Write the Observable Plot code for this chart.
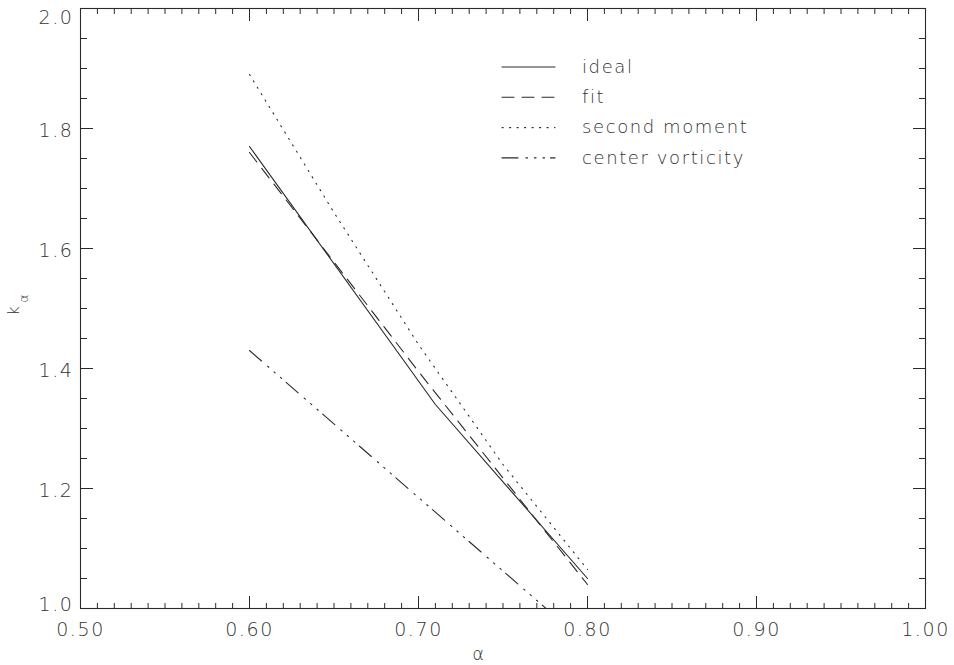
<!DOCTYPE html>
<html>
<head>
<meta charset="utf-8">
<script src="https://cdn.jsdelivr.net/npm/d3@7"></script>
<script src="https://cdn.jsdelivr.net/npm/@observablehq/plot@0.6"></script>
<style>
  body { margin: 0; background: #fff; }
  #chart svg { display: block; }
</style>
</head>
<body>
<div id="chart"></div>
<script>
// k_alpha as a function of alpha for four estimates
const seriesNames = ["ideal", "fit", "second moment", "center vorticity"];

const alphaIdeal = [0.60, 0.71, 0.80];
const kIdeal = [1.77, 1.34, 1.05];

const alphaFit = [0.60, 0.70, 0.80];
const kFit = [1.76, 1.395, 1.04];

const alphaSecond = [0.60, 0.65, 0.70, 0.75, 0.80];
const kSecond = [1.89, 1.66, 1.44, 1.24, 1.065];

const alphaCenter = [0.60, 0.70, 0.80];
const kCenter = [1.43, 1.185, 0.94];

// axis ticks and their labels
const xTicks = [0.5, 0.6, 0.7, 0.8, 0.9, 1.0];
const xTickLabels = ["0.50", "0.60", "0.70", "0.80", "0.90", "1.00"];
const yTicks = [1.0, 1.2, 1.4, 1.6, 1.8, 2.0];
const yTickLabels = ["1.0", "1.2", "1.4", "1.6", "1.8", "2.0"];
const xMinorTicks = d3.range(50, 101).map(i => i / 100);
const yMinorTicks = d3.range(20, 41).map(i => i / 20);

const xLabel = "α";
const yLabelMain = "k";
const yLabelSub = "α";

// line styles for each series
const dashes = {
  "ideal": null,
  "fit": "12,8",
  "second moment": "1.2,6.3",
  "center vorticity": "16,8,1.5,7,1.5,7,1.5,6"
};

const seriesData = {
  "ideal": alphaIdeal.map((a, i) => ({alpha: a, k: kIdeal[i]})),
  "fit": alphaFit.map((a, i) => ({alpha: a, k: kFit[i]})),
  "second moment": alphaSecond.map((a, i) => ({alpha: a, k: kSecond[i]})),
  "center vorticity": alphaCenter.map((a, i) => ({alpha: a, k: kCenter[i]}))
};

const ink = "#2a2a2a";
const font = "DejaVu Sans";

const xFmt = d => xTickLabels[xTicks.findIndex(t => Math.abs(t - d) < 1e-9)];
const yFmt = d => yTickLabels[yTicks.findIndex(t => Math.abs(t - d) < 1e-9)];
const blank = () => "";

// inward ticks on all four sides
const tickMarks = [];
for (const anchor of ["bottom", "top"]) {
  tickMarks.push(Plot.axisX(xMinorTicks, {anchor, tickSize: -5, tickFormat: blank, label: null, stroke: ink}));
  tickMarks.push(Plot.axisX(xTicks, {anchor, tickSize: -12, tickFormat: blank, label: null, stroke: ink}));
}
for (const anchor of ["left", "right"]) {
  tickMarks.push(Plot.axisY(yMinorTicks, {anchor, tickSize: -7, tickFormat: blank, label: null, stroke: ink}));
  tickMarks.push(Plot.axisY(yTicks, {anchor, tickSize: -13, tickFormat: blank, label: null, stroke: ink}));
}

const textStyle = {fill: "#333", fontSize: 19, fontWeight: 200};

const chart = Plot.plot({
  width: 954,
  height: 665,
  marginLeft: 80,
  marginRight: 29,
  marginTop: 8,
  marginBottom: 57,
  style: {fontFamily: font, background: "#fff", overflow: "visible", letterSpacing: "1.6px"},
  x: {domain: [0.5, 1.0]},
  y: {domain: [1.0, 2.0]},
  marks: [
    ...seriesNames.map(name => Plot.line(seriesData[name], {
      x: "alpha", y: "k", stroke: ink, strokeWidth: 1.1,
      strokeDasharray: dashes[name], strokeLinecap: "round", clip: true
    })),
    Plot.frame({stroke: ink, strokeWidth: 1.1}),
    ...tickMarks,
    Plot.axisX(xTicks, {anchor: "bottom", tickSize: 0, tickPadding: 14, tickFormat: xFmt, label: null, ...textStyle}),
    Plot.axisY(yTicks.slice(1, -1), {anchor: "left", tickSize: 0, tickPadding: 7, tickFormat: yFmt, label: null, dy: 2, ...textStyle}),
    Plot.axisY([yTicks[yTicks.length - 1]], {anchor: "left", tickSize: 0, tickPadding: 7, tickFormat: yFmt, label: null, dy: 9, ...textStyle}),
    Plot.axisY([yTicks[0]], {anchor: "left", tickSize: 0, tickPadding: 7, tickFormat: yFmt, label: null, dy: -4, ...textStyle}),
    Plot.text([xLabel], {text: d => d, frameAnchor: "bottom", dx: -24, dy: 51, fontSize: 18, fontWeight: 200, fill: "#333"}),
    Plot.text([yLabelMain], {text: d => d, frameAnchor: "left", dx: -67, dy: 7, rotate: -90, fontSize: 16, fontWeight: 200, fill: "#333"}),
    Plot.text([yLabelSub], {text: d => d, frameAnchor: "left", dx: -56, dy: -6, rotate: -90, fontSize: 12, fontWeight: 200, fill: "#333"})
  ]
});

document.getElementById("chart").appendChild(chart);

// legend in the upper part of the plot area
const svg = d3.select(chart);
const legend = svg.append("g").attr("transform", "translate(502,67)");
seriesNames.forEach((name, i) => {
  const row = legend.append("g").attr("transform", `translate(0,${i * 30.3})`);
  row.append("line")
    .attr("x1", 0).attr("x2", 53).attr("y1", 0).attr("y2", 0)
    .attr("stroke", ink).attr("stroke-width", 1.1)
    .attr("stroke-linecap", "round")
    .attr("stroke-dasharray", dashes[name]);
  row.append("text")
    .attr("x", 80).attr("y", 0).attr("dy", "0.32em")
    .attr("text-anchor", "start")
    .attr("fill", "#333")
    .attr("font-family", font)
    .attr("font-size", 18)
    .attr("font-weight", 200)
    .attr("letter-spacing", 1.6)
    .text(name);
});
</script>
</body>
</html>
